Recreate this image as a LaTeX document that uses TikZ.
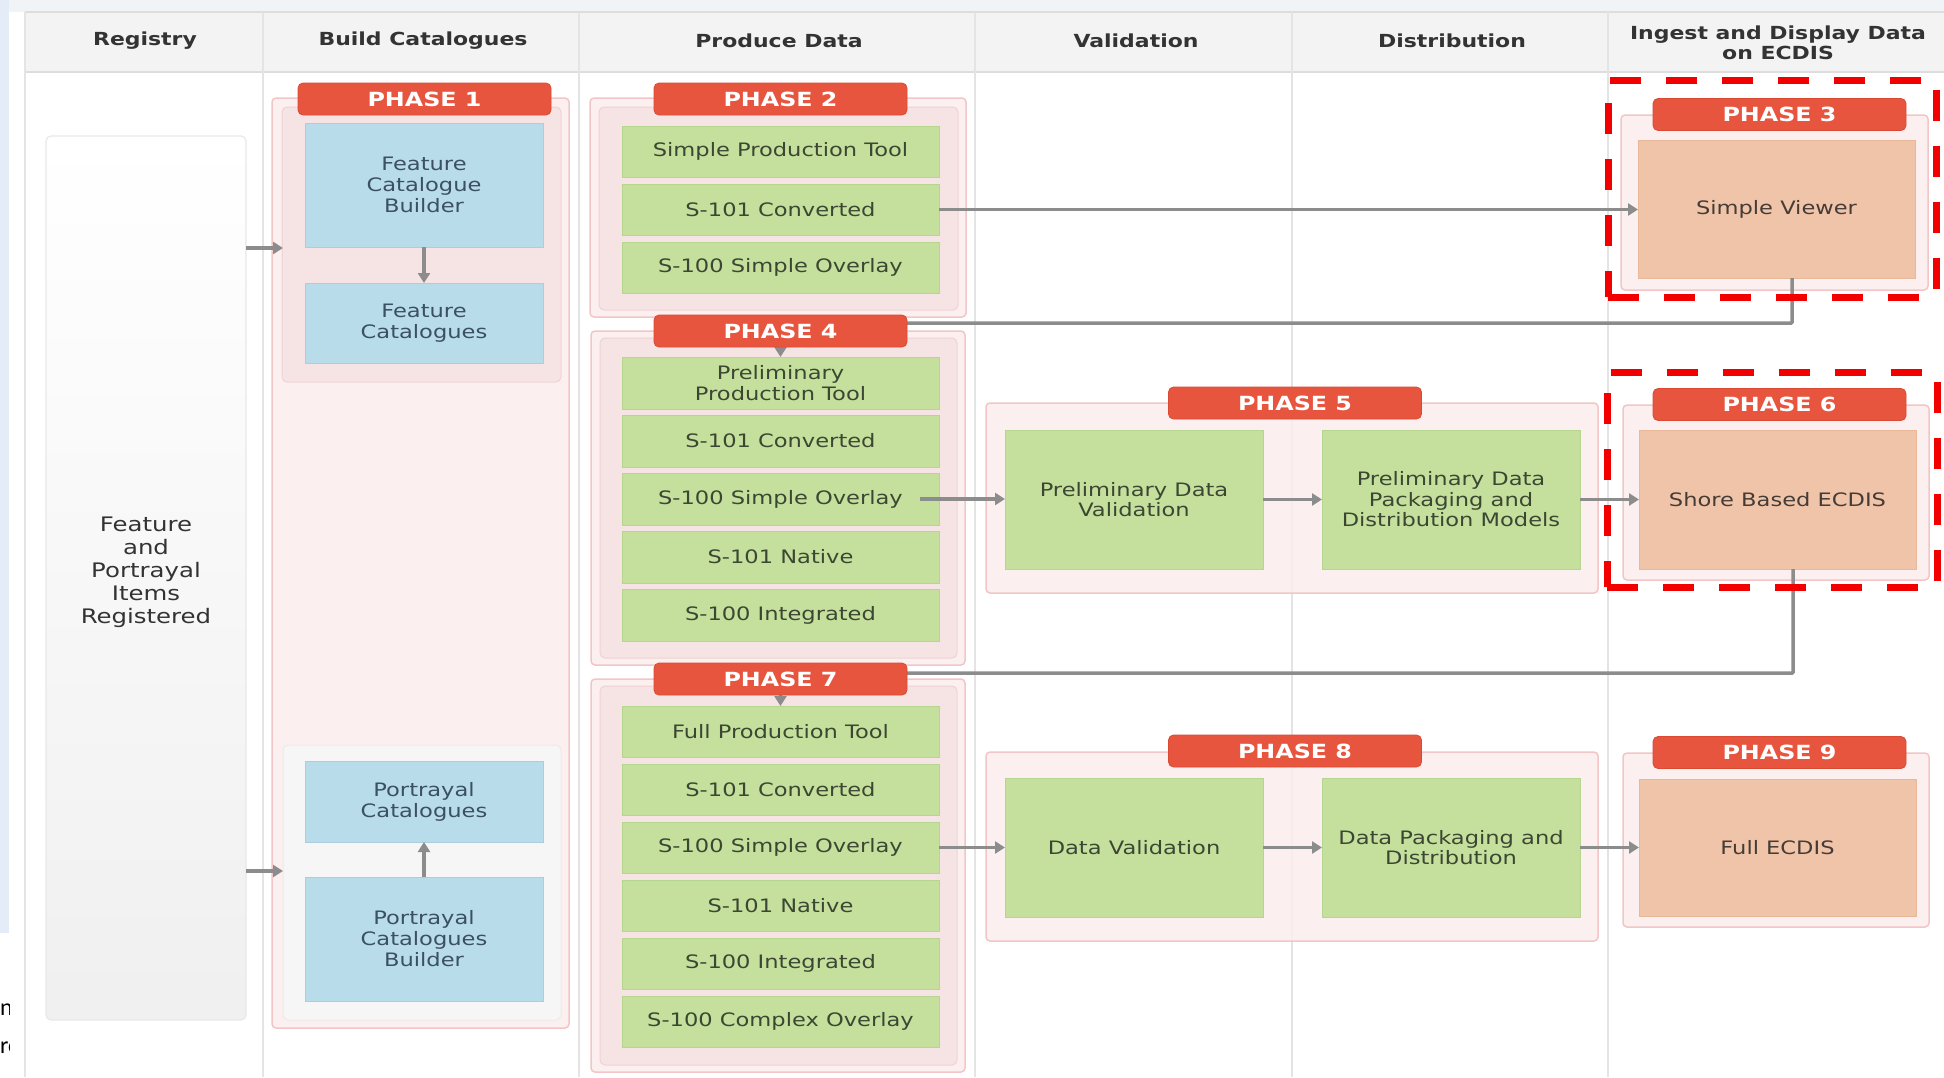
\documentclass[tikz,border=0pt]{standalone}
\usepackage{fontspec}
\setmainfont{DejaVu Sans}[FakeStretch=1.22]
\newfontfamily\fragfont{Carlito}
\usetikzlibrary{arrows.meta,fit}
\definecolor{topstrip}{HTML}{F1F4F7}
\definecolor{leftstrip}{HTML}{E3ECF7}
\definecolor{hdrbg}{HTML}{F3F3F3}
\definecolor{hdrline}{HTML}{DDDDDD}
\definecolor{colline}{HTML}{E4E4E4}
\definecolor{hdrtext}{HTML}{333333}
\definecolor{contfill}{HTML}{FCEDED}
\definecolor{contdraw}{HTML}{F2C6C6}
\definecolor{innfill}{HTML}{F6E4E4}
\definecolor{inndraw}{HTML}{EFD3D3}
\definecolor{grayinn}{HTML}{F6F6F6}
\definecolor{graydraw}{HTML}{EBEBEB}
\definecolor{badgered}{HTML}{E8553F}
\definecolor{badgedraw}{HTML}{DA4A33}
\definecolor{bluefill}{HTML}{B9DCEA}
\definecolor{bluedraw}{HTML}{AACEDE}
\definecolor{bluetext}{HTML}{3B5060}
\definecolor{greenfill}{HTML}{C4E09C}
\definecolor{greendraw}{HTML}{B6D58E}
\definecolor{greentext}{HTML}{3C4733}
\definecolor{orfill}{HTML}{F0C4A8}
\definecolor{ordraw}{HTML}{E8B899}
\definecolor{ortext}{HTML}{463C37}
\definecolor{arrowgray}{HTML}{8C8C8C}
\definecolor{dashred}{HTML}{F20000}
\definecolor{regtext}{HTML}{333333}
\begin{document}
\begin{tikzpicture}[x=1pt,y=-1pt,
  every node/.style={inner sep=0pt, outer sep=0pt},
  hdr/.style={font=\bfseries\fontsize{18}{20.5}\selectfont, text=hdrtext, align=center},
  cont/.style={draw=contdraw, fill=contfill, fill opacity=0.85, rounded corners=4pt, line width=1.5pt},
  innp/.style={draw=inndraw, fill=innfill, rounded corners=5pt, line width=1pt},
  inng/.style={draw=graydraw, fill=grayinn, rounded corners=5pt, line width=1pt},
  badge/.style={fill=badgered, draw=badgedraw, line width=0.8pt, rounded corners=5pt, minimum width=253pt, minimum height=32pt, text=white, font=\bfseries\fontsize{19.5}{20}\selectfont},
  bluebox/.style={fill=bluefill, draw=bluedraw, line width=1pt},
  greenbox/.style={fill=greenfill, draw=greendraw, line width=1pt},
  orbox/.style={fill=orfill, draw=ordraw, line width=1pt},
  btxt/.style={text=bluetext, align=center, font=\fontsize{18.5}{21}\selectfont},
  gtxt/.style={text=greentext, align=center, font=\fontsize{18.5}{20.5}\selectfont},
  otxt/.style={text=ortext, align=center, font=\fontsize{18.5}{21}\selectfont},
  conn/.style={draw=arrowgray, line width=3.5pt, -{Triangle[length=10pt,width=12pt]}},
  hilite/.style={draw=dashred, line width=7pt, dash pattern=on 31pt off 25pt}
]
\useasboundingbox (0,0) rectangle (1944,1077);
% background
\fill[white] (0,0) rectangle (1944,1077);
\fill[topstrip] (0,0) rectangle (1944,12);
\fill[leftstrip] (0,0) rectangle (9,933);
\begin{scope}
  \clip (0,940) rectangle (9,1077);
  \node[anchor=base west, font=\fragfont\fontsize{24}{24}\selectfont] (fragA) at (0,1015) {na};
  \node[anchor=base west, font=\fragfont\fontsize{24}{24}\selectfont] (fragB) at (0,1053) {rc};
\end{scope}
% header row
\fill[hdrbg] (25,12) rectangle (1944,72);
\draw[hdrline, line width=1.5pt] (25,72) -- (1944,72);
\draw[hdrline, line width=1.5pt] (25,12) -- (1944,12);
\draw[colline, line width=1.5pt] (25,12) -- (25,1077);
\foreach \cx in {263,579,975,1292,1608}
  \draw[colline, line width=1.5pt] (\cx,12) -- (\cx,1077);
\node[hdr] (h1) at (145,41) {Registry};
\node[hdr] (h2) at (423,41) {Build Catalogues};
\node[hdr] (h3) at (779,41) {Produce Data};
\node[hdr] (h4) at (1136,41) {Validation};
\node[hdr] (h5) at (1452,41) {Distribution};
\node[hdr] (h6) at (1778,43) {Ingest and Display Data\\on ECDIS};
% registry column
\node[draw=black!9, line width=1.2pt, rounded corners=5pt, top color=white, bottom color=black!6,
      fit={(46,136)(246,1020)}] (reg) {};
\node[text=regtext, align=center, font=\fontsize{20}{23}\selectfont] (regtxt) at (146,572)
  {Feature\\and\\Portrayal\\Items\\Registered};
% containers
\node[cont, fit={(272,98)(569,1028)}] (c1) {};
\node[innp, fit={(282,107)(561,382)}] (g1) {};
\node[inng, fit={(283,745)(561,1020)}] (g2) {};
\node[cont, fit={(590,98)(966,317)}] (c2) {};
\node[innp, fit={(599,107)(958,310)}] (g3) {};
\node[cont, fit={(591,331)(965,665)}] (c4) {};
\node[innp, fit={(600,338)(957,658)}] (g4) {};
\node[cont, fit={(591,679)(965,1072)}] (c7) {};
\node[innp, fit={(600,686)(957,1065)}] (g7) {};
\node[cont, fit={(1621,115)(1928,290)}] (c3) {};
\node[cont, fit={(986,403)(1598,593)}] (c5) {};
\node[cont, fit={(1623,405)(1929,580)}] (c6) {};
\node[cont, fit={(986,752)(1598,941)}] (c8) {};
\node[cont, fit={(1623,753)(1929,927)}] (c9) {};
% build catalogues
\node[bluebox, fit={(305,123)(543,247)}] (fcb) {};
\node[btxt] (fcbT) at (fcb.center) {Feature\\Catalogue\\Builder};
\node[bluebox, fit={(305,283)(543,363)}] (fc) {};
\node[btxt] (fcT) at (fc.center) {Feature\\Catalogues};
\node[bluebox, fit={(305,761)(543,842)}] (pc) {};
\node[btxt] (pcT) at (pc.center) {Portrayal\\Catalogues};
\node[bluebox, fit={(305,877)(543,1001)}] (pcb) {};
\node[btxt] (pcbT) at (pcb.center) {Portrayal\\Catalogues\\Builder};
% phase 2
\node[greenbox, fit={(622,126)(939,177)}] (p2a) {};
\node[gtxt] (p2aT) at (p2a.center) {Simple Production Tool};
\node[greenbox, fit={(622,184)(939,235)}] (p2b) {};
\node[gtxt] (p2bT) at (p2b.center) {S-101 Converted};
\node[greenbox, fit={(622,242)(939,293)}] (p2c) {};
\node[gtxt] (p2cT) at (p2c.center) {S-100 Simple Overlay};
% phase 4
\node[greenbox, fit={(622,357)(939,409)}] (ppt) {};
\node[gtxt] (pptT) at (ppt.center) {Preliminary\\Production Tool};
\node[greenbox, fit={(622,415)(939,467)}] (p4b) {};
\node[gtxt] (p4bT) at (p4b.center) {S-101 Converted};
\node[greenbox, fit={(622,473)(939,525)}] (p4c) {};
\node[gtxt] (p4cT) at (p4c.center) {S-100 Simple Overlay};
\node[greenbox, fit={(622,531)(939,583)}] (p4d) {};
\node[gtxt] (p4dT) at (p4d.center) {S-101 Native};
\node[greenbox, fit={(622,589)(939,641)}] (p4e) {};
\node[gtxt] (p4eT) at (p4e.center) {S-100 Integrated};
% phase 7
\node[greenbox, fit={(622,706)(939,757)}] (fpt) {};
\node[gtxt] (fptT) at (fpt.center) {Full Production Tool};
\node[greenbox, fit={(622,764)(939,815)}] (p7b) {};
\node[gtxt] (p7bT) at (p7b.center) {S-101 Converted};
\node[greenbox, fit={(622,822)(939,873)}] (p7c) {};
\node[gtxt] (p7cT) at (p7c.center) {S-100 Simple Overlay};
\node[greenbox, fit={(622,880)(939,931)}] (p7d) {};
\node[gtxt] (p7dT) at (p7d.center) {S-101 Native};
\node[greenbox, fit={(622,938)(939,989)}] (p7e) {};
\node[gtxt] (p7eT) at (p7e.center) {S-100 Integrated};
\node[greenbox, fit={(622,996)(939,1047)}] (p7f) {};
\node[gtxt] (p7fT) at (p7f.center) {S-100 Complex Overlay};
% phase 5 and 8
\node[greenbox, fit={(1005,430)(1263,569)}] (pdv) {};
\node[gtxt] (pdvT) at (pdv.center) {Preliminary Data\\Validation};
\node[greenbox, fit={(1322,430)(1580,569)}] (pdp) {};
\node[gtxt] (pdpT) at (pdp.center) {Preliminary Data\\Packaging and\\Distribution Models};
\node[greenbox, fit={(1005,778)(1263,917)}] (dv) {};
\node[gtxt] (dvT) at (dv.center) {Data Validation};
\node[greenbox, fit={(1322,778)(1580,917)}] (dpd) {};
\node[gtxt] (dpdT) at (dpd.center) {Data Packaging and\\Distribution};
% ECDIS
\node[orbox, fit={(1638,140)(1915,278)}] (sv) {};
\node[otxt] (svT) at (sv.center) {Simple Viewer};
\node[orbox, fit={(1639,430)(1916,569)}] (sbe) {};
\node[otxt] (sbeT) at (sbe.center) {Shore Based ECDIS};
\node[orbox, fit={(1639,779)(1916,916)}] (fe) {};
\node[otxt] (feT) at (fe.center) {Full ECDIS};
% connectors
\coordinate (g1in) at (283,248);
\coordinate (g2in) at (283,871);
\draw[conn] (reg.east |- g1in) -- (g1in);
\draw[conn] (reg.east |- g2in) -- (g2in);
\draw[conn] (fcb) -- (fc);
\draw[conn] (pcb) -- (pc);
\draw[conn] (p2b.east) -- (p2b.east -| sv.west);
\coordinate (j1) at (1792,323);
\draw[conn, rounded corners=1pt] (sv.south -| j1) -- (j1) -- (j1 -| ppt.north) -- (ppt.north);
\draw[conn] ([xshift=-19pt]p4c.east) -- (p4c.east -| pdv.west);
\draw[conn] (pdv) -- (pdp);
\draw[conn] (pdp) -- (sbe);
\coordinate (j2) at (1793,673);
\draw[conn, rounded corners=1pt] (sbe.south -| j2) -- (j2) -- (j2 -| fpt.north) -- (fpt.north);
\draw[conn] (p7c.east) -- (p7c.east -| dv.west);
\draw[conn] (dv) -- (dpd);
\draw[conn] (dpd) -- (fe);
% badges
\node[badge] (b1) at (424.5,99) {PHASE 1};
\node[badge] (b2) at (780.5,99) {PHASE 2};
\node[badge] (b3) at (1779.5,114.5) {PHASE 3};
\node[badge] (b4) at (780.5,331) {PHASE 4};
\node[badge] (b5) at (1295,403) {PHASE 5};
\node[badge] (b6) at (1779.5,404.5) {PHASE 6};
\node[badge] (b7) at (780.5,679) {PHASE 7};
\node[badge] (b8) at (1295,751) {PHASE 8};
\node[badge] (b9) at (1779.5,752.5) {PHASE 9};
% highlight frames
\node[hilite, fit={(1608,80)(1936,297)}] (hl3) {};
\node[hilite, fit={(1607,372)(1937,587)}] (hl6) {};
\end{tikzpicture}
\end{document}
